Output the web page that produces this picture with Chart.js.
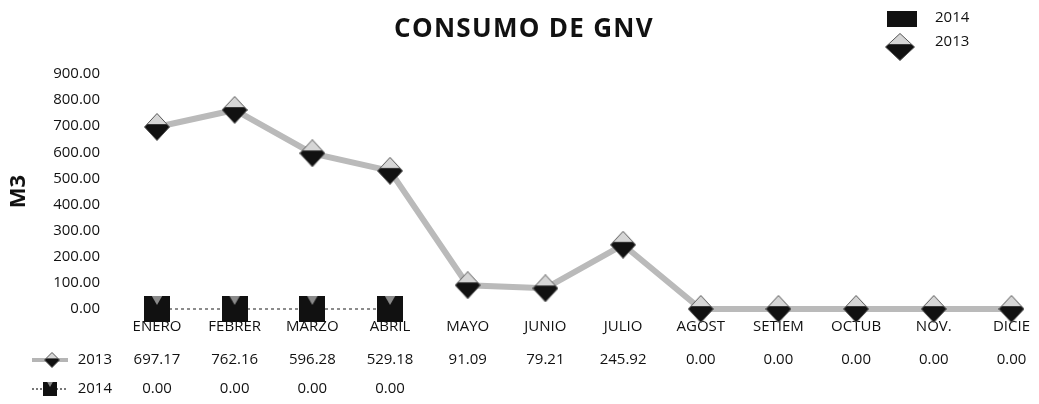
<!DOCTYPE html>
<html>
<head>
<meta charset="utf-8">
<script src="https://cdn.jsdelivr.net/npm/chart.js@4.4.1/dist/chart.umd.min.js"></script>
<style>
  html, body { margin: 0; padding: 0; background: #fff; }
  #wrap { width: 1039px; height: 404px; }
</style>
</head>
<body>
<div id="wrap"><canvas id="gnv-chart" width="1039" height="404"></canvas></div>
<script>
// Chart data
const chartTitle = 'CONSUMO DE GNV';
const axisTitle = 'M3';
const months = ['ENERO', 'FEBRER', 'MARZO', 'ABRIL', 'MAYO', 'JUNIO', 'JULIO', 'AGOST', 'SETIEM', 'OCTUB', 'NOV.', 'DICIE'];
const seriesNames = ['2013', '2014'];
const consumo2013 = [697.17, 762.16, 596.28, 529.18, 91.09, 79.21, 245.92, 0.00, 0.00, 0.00, 0.00, 0.00];
const consumo2014 = [0.00, 0.00, 0.00, 0.00, null, null, null, null, null, null, null, null];
const yTicks = [0, 100, 200, 300, 400, 500, 600, 700, 800, 900];

const FONT = '"Open Sans", "Noto Sans", sans-serif';

// Marker images: diamond with light top / dark bottom, and a black block
function makeDiamond(w, h) {
    const c = document.createElement('canvas');
    c.width = w; c.height = h;
    const g = c.getContext('2d');
    g.beginPath();
    g.moveTo(w / 2, 0.5); g.lineTo(w - 0.5, h / 2); g.lineTo(w / 2, h - 0.5); g.lineTo(0.5, h / 2);
    g.closePath();
    g.fillStyle = '#d6d6d6';
    g.fill();
    g.save();
    g.clip();
    g.fillStyle = '#111';
    g.fillRect(0, h * 0.4, w, h);
    g.restore();
    g.strokeStyle = '#555';
    g.lineWidth = 1;
    g.stroke();
    return c;
}

function makeBlock(w, h) {
    const c = document.createElement('canvas');
    c.width = w; c.height = h;
    const g = c.getContext('2d');
    g.fillStyle = '#111';
    g.fillRect(0, 0, w, h);
    g.fillStyle = '#8a8a8a';
    g.beginPath();
    g.moveTo(w * 0.3, 0); g.lineTo(w * 0.7, 0); g.lineTo(w / 2, h * 0.35);
    g.closePath();
    g.fill();
    return c;
}

const diamondBig = makeDiamond(26, 28);
const diamondSmall = makeDiamond(16, 16);
const diamondLegend = makeDiamond(30, 28);
const blockBig = makeBlock(26, 26);
const blockSmall = makeBlock(14, 14);

// Title, legend and data table drawn by hand
const extrasPlugin = {
    id: 'extras',
    afterDraw(chart) {
        const ctx = chart.ctx;
        const x = chart.scales.x;
        ctx.save();

        // title
        ctx.fillStyle = '#111';
        ctx.font = 'bold 26px ' + FONT;
        ctx.letterSpacing = '1.3px';
        ctx.textAlign = 'center';
        ctx.textBaseline = 'middle';
        ctx.fillText(chartTitle, 524, 30);
        ctx.letterSpacing = '0px';

        // legend (top right)
        ctx.font = '15px ' + FONT;
        ctx.textAlign = 'left';
        ctx.fillStyle = '#111';
        ctx.fillRect(887, 11, 30, 16);
        ctx.fillText(seriesNames[1], 935, 18);
        ctx.drawImage(diamondLegend, 885, 33);
        ctx.fillStyle = '#111';
        ctx.fillText(seriesNames[0], 935, 42);

        // data table
        const rows = [
            { name: seriesNames[0], values: consumo2013, y: 360 },
            { name: seriesNames[1], values: consumo2014, y: 389 }
        ];
        rows.forEach((row, r) => {
            ctx.fillStyle = '#111';
            ctx.textAlign = 'right';
            ctx.fillText(row.name, 112, row.y);
            ctx.textAlign = 'center';
            row.values.forEach((v, i) => {
                if (v === null) return;
                ctx.fillText(v.toFixed(2), x.getPixelForValue(i), row.y);
            });
            // legend key in front of the row name
            ctx.beginPath();
            ctx.moveTo(32, row.y);
            ctx.lineTo(68, row.y);
            if (r === 0) {
                ctx.strokeStyle = '#b5b5b5';
                ctx.lineWidth = 4;
                ctx.setLineDash([]);
                ctx.stroke();
                ctx.drawImage(diamondSmall, 44, row.y - 8);
            } else {
                ctx.strokeStyle = '#777';
                ctx.lineWidth = 2;
                ctx.setLineDash([2, 2]);
                ctx.stroke();
                ctx.setLineDash([]);
                ctx.drawImage(blockSmall, 43, row.y - 7);
            }
        });
        ctx.restore();
    }
};

const chart = new Chart(document.getElementById('gnv-chart'), {
    type: 'line',
    data: {
        labels: months,
        datasets: [
            {
                label: seriesNames[0],
                data: consumo2013,
                borderColor: '#bababa',
                borderWidth: 6,
                tension: 0,
                pointStyle: diamondBig,
                pointRadius: 13,
                clip: false,
                order: 2
            },
            {
                label: seriesNames[1],
                data: consumo2014,
                borderColor: '#8c8c8c',
                borderWidth: 2,
                borderDash: [3, 3],
                tension: 0,
                spanGaps: false,
                pointStyle: blockBig,
                pointRadius: 13,
                clip: false,
                order: 1
            }
        ]
    },
    options: {
        responsive: false,
        devicePixelRatio: 1,
        animation: false,
        layout: { padding: { top: 74, right: 22, left: 0, bottom: 0 } },
        plugins: {
            legend: { display: false },
            title: { display: false },
            tooltip: { enabled: false }
        },
        scales: {
            x: {
                offset: false,
                grid: { display: false, drawTicks: false, tickLength: 0 },
                border: { display: false },
                ticks: {
                    color: '#111',
                    font: { family: FONT, size: 15 },
                    padding: 9,
                    maxRotation: 0,
                    autoSkip: false
                },
                afterFit(scale) { scale.height = 95; }
            },
            y: {
                min: 0,
                max: 900,
                grid: { display: false, drawTicks: false, tickLength: 0 },
                border: { display: false },
                afterBuildTicks(scale) { scale.ticks = yTicks.map(v => ({ value: v })); },
                ticks: {
                    color: '#111',
                    font: { family: FONT, size: 15 },
                    padding: 57,
                    callback: v => Number(v).toFixed(2)
                },
                title: {
                    display: true,
                    text: axisTitle,
                    color: '#111',
                    font: { family: FONT, size: 22, weight: 'bold' },
                    padding: { top: 6, bottom: 0 }
                },
                afterFit(scale) { scale.width = 157; }
            }
        }
    },
    plugins: [extrasPlugin]
});
</script>
</body>
</html>
